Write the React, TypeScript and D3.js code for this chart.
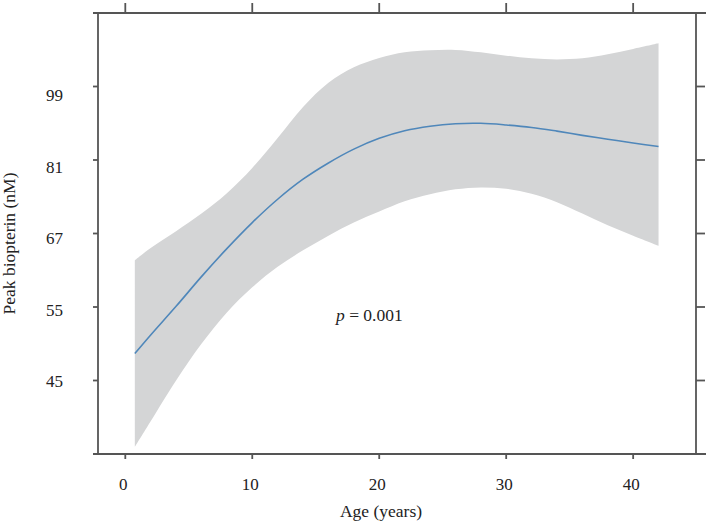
import React, { useEffect, useRef } from 'react'
import { select, scaleLinear, scaleLog, line, area, curveCatmullRom } from 'd3'

// fitted peak biopterin vs age, with confidence band
const AGES = [0.75, 2, 4, 6, 8, 10, 12, 14, 16, 18, 20, 22, 24, 26, 28, 30, 32, 34, 36, 38, 40, 42]
const FIT = [48.1, 50.6, 54.7, 59.3, 64.0, 68.7, 73.2, 77.3, 80.8, 83.9, 86.4, 88.2, 89.3, 89.9, 90.0, 89.6, 89.0, 88.1, 87.1, 86.2, 85.3, 84.5]
const UPPER = [62.0, 64.1, 67.1, 70.4, 74.4, 79.7, 86.5, 94.1, 100.5, 104.8, 107.5, 109.2, 109.8, 109.9, 109.2, 108.2, 107.4, 107.1, 107.4, 108.6, 110.2, 111.9]
const LOWER = [37.3, 40.0, 44.7, 49.4, 53.8, 57.6, 60.9, 63.7, 66.3, 68.7, 70.8, 72.8, 74.2, 75.2, 75.6, 75.3, 74.3, 72.6, 70.4, 68.2, 66.3, 64.5]

const X_TICKS = [0, 10, 20, 30, 40]
// y axis is on the log scale, ticks every 0.2 log units
const Y_TICK_LOGS = [3.8, 4.0, 4.2, 4.4, 4.6]
const Y_TICK_LABELS = ['45', '55', '67', '81', '99']

const App = () => {
    const svgRef = useRef<SVGSVGElement>(null)

    const width = 709
    const height = 524
    const margin = { top: 13, right: 13, bottom: 70, left: 98 }

    useEffect(() => {
        const svg = select(svgRef.current)
        svg.selectAll('*').remove()

        const x = scaleLinear()
            .domain([-2.15, 44.95])
            .range([margin.left, width - margin.right])

        const y = scaleLog()
            .domain([Math.exp(3.6), Math.exp(4.8)])
            .range([height - margin.bottom, margin.top])

        const x0 = margin.left
        const x1 = width - margin.right
        const y0 = height - margin.bottom
        const y1 = margin.top

        const rows = AGES.map((a, i) => ({ age: a, fit: FIT[i], lo: LOWER[i], hi: UPPER[i] }))

        const band = area<any>()
            .x(d => x(d.age))
            .y0(d => y(d.lo))
            .y1(d => y(d.hi))
            .curve(curveCatmullRom)

        const fitLine = line<any>()
            .x(d => x(d.age))
            .y(d => y(d.fit))
            .curve(curveCatmullRom)

        svg.append('path')
            .datum(rows)
            .attr('d', band)
            .attr('fill', '#d4d5d6')

        svg.append('path')
            .datum(rows)
            .attr('d', fitLine)
            .attr('fill', 'none')
            .attr('stroke', '#4f87ba')
            .attr('stroke-width', 1.6)

        const axisColor = '#555'
        const g = svg.append('g').attr('stroke', axisColor).attr('stroke-width', 1.8)

        // frame
        g.append('line').attr('x1', x0 - 5).attr('x2', x1 + 10).attr('y1', y0).attr('y2', y0)
        g.append('line').attr('x1', x0 - 5).attr('x2', x1 + 10).attr('y1', y1).attr('y2', y1)
        g.append('line').attr('x1', x0).attr('x2', x0).attr('y1', y1).attr('y2', y0)
        g.append('line').attr('x1', x1).attr('x2', x1).attr('y1', y1).attr('y2', y0)

        // x ticks, bottom short and top long
        g.selectAll('.xb').data(X_TICKS).enter().append('line')
            .attr('x1', d => x(d)).attr('x2', d => x(d))
            .attr('y1', y0).attr('y2', y0 + 5)
        g.selectAll('.xt').data(X_TICKS).enter().append('line')
            .attr('x1', d => x(d)).attr('x2', d => x(d))
            .attr('y1', y1).attr('y2', y1 - 10)

        // y ticks, left short and right long
        g.selectAll('.yl').data(Y_TICK_LOGS).enter().append('line')
            .attr('x1', x0 - 5).attr('x2', x0)
            .attr('y1', d => y(Math.exp(d))).attr('y2', d => y(Math.exp(d)))
        g.selectAll('.yr').data(Y_TICK_LOGS).enter().append('line')
            .attr('x1', x1).attr('x2', x1 + 9)
            .attr('y1', d => y(Math.exp(d))).attr('y2', d => y(Math.exp(d)))

        const font = '"Liberation Serif", "Times New Roman", serif'

        svg.selectAll('.xlab').data(X_TICKS).enter().append('text')
            .attr('x', d => x(d) - 2)
            .attr('y', 490)
            .attr('text-anchor', 'middle')
            .attr('font-family', font)
            .attr('font-size', 17)
            .attr('fill', '#222')
            .text(d => d)

        // labels sit on a slightly tighter spacing than the ticks
        const labY = scaleLinear()
            .domain([0, Y_TICK_LOGS.length - 1])
            .range([y(Math.exp(Y_TICK_LOGS[0])) + 1, y(Math.exp(Y_TICK_LOGS[Y_TICK_LOGS.length - 1])) + 9])

        svg.selectAll('.ylab').data(Y_TICK_LABELS).enter().append('text')
            .attr('x', 63)
            .attr('y', (d, i) => labY(i))
            .attr('dy', '0.34em')
            .attr('text-anchor', 'end')
            .attr('font-family', font)
            .attr('font-size', 17)
            .attr('fill', '#222')
            .text(d => d)

        svg.append('text')
            .attr('x', 381)
            .attr('y', 517)
            .attr('text-anchor', 'middle')
            .attr('font-family', font)
            .attr('font-size', 17.5)
            .attr('fill', '#222')
            .text('Age (years)')

        svg.append('text')
            .attr('transform', 'translate(15, 243.5) rotate(-90)')
            .attr('text-anchor', 'middle')
            .attr('font-family', font)
            .attr('font-size', 17.5)
            .attr('fill', '#222')
            .text('Peak biopterin (nM)')

        const pt = svg.append('text')
            .attr('x', 336)
            .attr('y', 321)
            .attr('font-family', font)
            .attr('font-size', 17.5)
            .attr('fill', '#222')
        pt.append('tspan').attr('font-style', 'italic').text('p')
        pt.append('tspan').text(' = 0.001')
    }, [])

    return (
        <svg
            ref={svgRef}
            width={width}
            height={height}
            style={{ position: 'absolute', left: 0, top: 0, background: '#fff' }}
        />
    )
}

export default App
